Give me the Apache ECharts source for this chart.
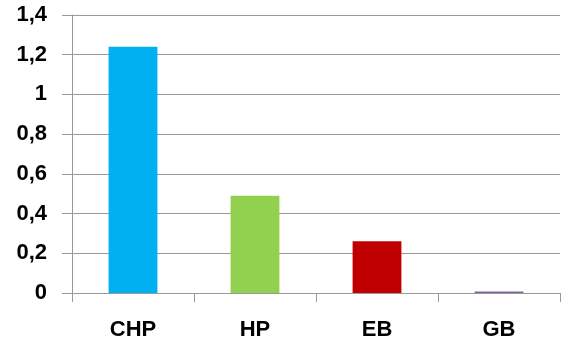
<!DOCTYPE html>
<html>
<head>
<meta charset="utf-8">
<script src="https://cdn.jsdelivr.net/npm/echarts@6/dist/echarts.min.js"></script>
<style>
html,body{margin:0;padding:0;background:#fff;}
#chart{width:563px;height:342px;}
</style>
</head>
<body>
<div id="chart"></div>
<script>
// Technologies and their values
const categories = ['CHP', 'HP', 'EB', 'GB'];
const values = [1.24, 0.49, 0.26, 0.008];
const barColors = ['#00B0F0', '#92D050', '#C00000', '#8064A2'];
const yTicks = [0, 0.2, 0.4, 0.6, 0.8, 1, 1.2, 1.4];

const chart = echarts.init(document.getElementById('chart'));
const labelFont = { fontFamily: 'Liberation Sans, Arial, sans-serif', fontWeight: 'bold', color: '#000' };

chart.setOption({
  animation: false,
  grid: { left: 72, right: 3, top: 15, bottom: 49 },
  xAxis: {
    type: 'category',
    data: categories,
    axisLine: { show: true, lineStyle: { color: '#999', width: 1 } },
    axisTick: { show: true, length: 9, lineStyle: { color: '#999' } },
    axisLabel: Object.assign({ fontSize: 22, margin: 26 }, labelFont)
  },
  yAxis: {
    type: 'value',
    min: yTicks[0],
    max: yTicks[yTicks.length - 1],
    interval: 0.2,
    axisLine: { show: true, lineStyle: { color: '#999', width: 1 } },
    axisTick: { show: true, length: 10, lineStyle: { color: '#999' } },
    splitLine: { show: true, lineStyle: { color: '#999', width: 1 } },
    axisLabel: Object.assign({
      fontSize: 22,
      margin: 25,
      formatter: v => String(Math.round(v * 10) / 10).replace('.', ',')
    }, labelFont)
  },
  series: [{
    type: 'bar',
    barWidth: '40%',
    data: values.map((v, i) => ({ value: v, itemStyle: { color: barColors[i] } }))
  }]
});
</script>
</body>
</html>
